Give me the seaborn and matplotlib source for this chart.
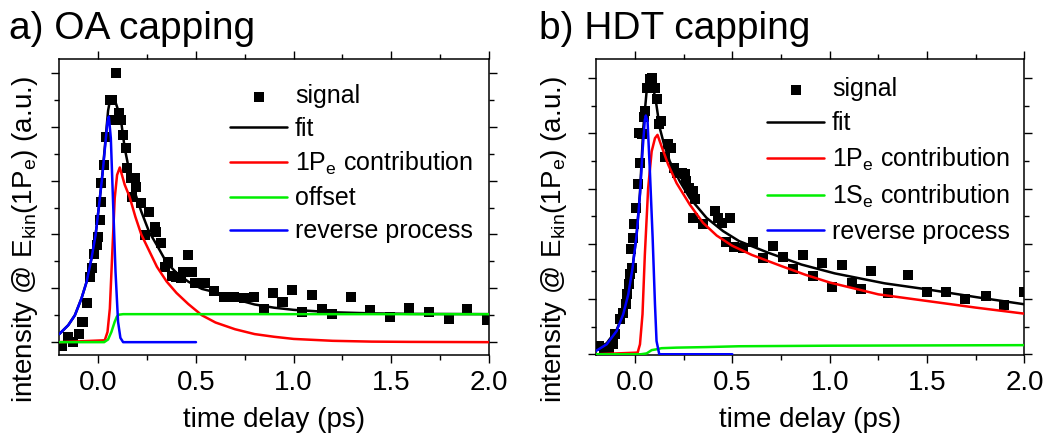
import matplotlib
matplotlib.use("Agg")
import matplotlib.pyplot as plt
from matplotlib.ticker import MultipleLocator, FormatStrFormatter, NullFormatter
import seaborn as sns

# ---------------- data: panel a) OA capping ----------------
sigA_t = [-0.186, -0.154, -0.132, -0.099, -0.081, -0.060, -0.043, -0.030, -0.021, -0.009,
          -0.001, 0.008, 0.013, 0.016, 0.030, 0.038, 0.059, 0.072, 0.088, 0.076,
          0.096, 0.105, 0.118, 0.127, 0.140, 0.149, 0.169, 0.186, 0.195, 0.174,
          0.220, 0.237, 0.259, 0.288, 0.297, 0.319, 0.339, 0.357, 0.379, 0.399,
          0.421, 0.433, 0.458, 0.479, 0.497, 0.548, 0.594, 0.645, 0.696, 0.744,
          0.795, 0.846, 0.895, 0.943, 0.994, 1.045, 1.093, 1.144, 1.195, 1.292,
          1.390, 1.492, 1.593, 1.691, 1.793, 1.890, 1.989]
sigA_y = [-0.015, 0.020, 0.000, 0.032, 0.076, 0.144, 0.243, 0.274, 0.328, 0.361,
          0.392, 0.454, 0.522, 0.591, 0.659, 0.762, 0.901, 0.901, 1.000, 0.826,
          0.826, 0.851, 0.826, 0.770, 0.721, 0.646, 0.609, 0.609, 0.578, 0.541,
          0.516, 0.398, 0.485, 0.429, 0.411, 0.367, 0.280, 0.299, 0.246, 0.243,
          0.239, 0.262, 0.324, 0.262, 0.218, 0.221, 0.191, 0.169, 0.169, 0.165,
          0.169, 0.125, 0.181, 0.148, 0.194, 0.113, 0.175, 0.125, 0.103, 0.166,
          0.119, 0.092, 0.128, 0.113, 0.087, 0.125, 0.082]

fitA_t = [-0.2, -0.154, -0.120, -0.086, -0.060, -0.035, -0.014, 0.004, 0.021, 0.037,
          0.050, 0.060, 0.071, 0.084, 0.101, 0.118, 0.135, 0.16, 0.19, 0.22,
          0.26, 0.30, 0.35, 0.40, 0.46, 0.53, 0.60, 0.70, 0.80, 0.90,
          1.0, 1.2, 1.4, 1.6, 2.0]
fitA_y = [0.030, 0.063, 0.100, 0.163, 0.224, 0.311, 0.398, 0.510, 0.625, 0.755,
          0.860, 0.900, 0.907, 0.900, 0.863, 0.814, 0.721, 0.630, 0.550, 0.485,
          0.410, 0.360, 0.295, 0.258, 0.225, 0.198, 0.185, 0.160, 0.140, 0.128,
          0.120, 0.111, 0.107, 0.105, 0.104]

pA_t = [-0.2, 0.033, 0.047, 0.059, 0.071, 0.084, 0.096, 0.110, 0.135, 0.16,
        0.19, 0.22, 0.26, 0.30, 0.35, 0.40, 0.46, 0.53, 0.60, 0.70,
        0.80, 0.90, 1.0, 1.2, 1.4, 1.6, 2.0]
pA_y = [0.0, 0.007, 0.038, 0.125, 0.324, 0.535, 0.621, 0.649, 0.585, 0.540,
        0.465, 0.400, 0.340, 0.280, 0.225, 0.183, 0.142, 0.100, 0.073, 0.048,
        0.030, 0.020, 0.012, 0.005, 0.002, 0.001, 0.0]

offA_t = [-0.2, 0.030, 0.050, 0.067, 0.084, 0.095, 0.105, 0.127, 2.0]
offA_y = [0.0, 0.0, 0.010, 0.038, 0.076, 0.095, 0.102, 0.104, 0.104]

revA_t = [-0.2, -0.154, -0.120, -0.086, -0.060, -0.035, -0.014, 0.004, 0.021, 0.037,
          0.047, 0.054, 0.064, 0.076, 0.088, 0.101, 0.113, 0.127, 0.5]
revA_y = [0.030, 0.063, 0.100, 0.163, 0.224, 0.311, 0.398, 0.510, 0.621, 0.745,
          0.820, 0.838, 0.758, 0.510, 0.262, 0.076, 0.016, 0.0, 0.0]

# ---------------- data: panel b) HDT capping ----------------
sigB_t = [-0.186, -0.160, -0.134, -0.112, -0.100, -0.078, -0.060, -0.048, -0.039, -0.031,
          -0.026, -0.014, -0.019, -0.008, -0.005, 0.007, 0.018, 0.026, 0.021, 0.038,
          0.047, 0.052, 0.064, 0.078, 0.086, 0.081, 0.103, 0.112, 0.124, 0.136,
          0.154, 0.171, 0.185, 0.199, 0.216, 0.240, 0.257, 0.262, 0.279, 0.297,
          0.309, 0.297, 0.349, 0.409, 0.426, 0.447, 0.486, 0.469, 0.509, 0.556,
          0.607, 0.659, 0.707, 0.759, 0.811, 0.861, 0.914, 0.962, 1.012, 1.064,
          1.112, 1.162, 1.214, 1.299, 1.402, 1.501, 1.598, 1.697, 1.800, 1.897, 1.995]
sigB_y = [0.030, 0.018, 0.012, 0.036, 0.072, 0.127, 0.151, 0.181, 0.217, 0.254,
          0.290, 0.314, 0.380, 0.423, 0.471, 0.529, 0.616, 0.694, 0.801, 0.797,
          0.858, 0.882, 0.966, 0.996, 1.002, 0.966, 0.966, 0.924, 0.833, 0.845,
          0.713, 0.761, 0.749, 0.676, 0.658, 0.658, 0.652, 0.628, 0.604, 0.592,
          0.562, 0.495, 0.471, 0.519, 0.495, 0.477, 0.495, 0.405, 0.390, 0.386,
          0.407, 0.347, 0.392, 0.353, 0.310, 0.359, 0.282, 0.330, 0.245, 0.322,
          0.257, 0.238, 0.302, 0.221, 0.287, 0.226, 0.224, 0.199, 0.211, 0.178, 0.224]

fitB_t = [-0.2, -0.145, -0.094, -0.060, -0.034, -0.012, 0.009, 0.026, 0.043, 0.060,
          0.077, 0.091, 0.108, 0.128, 0.149, 0.179, 0.231, 0.282, 0.368, 0.453,
          0.535, 0.684, 0.855, 1.026, 1.282, 1.501, 1.752, 2.0]
fitB_y = [0.018, 0.040, 0.088, 0.148, 0.220, 0.316, 0.437, 0.585, 0.819, 0.952,
          0.994, 0.976, 0.915, 0.819, 0.762, 0.699, 0.626, 0.566, 0.494, 0.446,
          0.410, 0.368, 0.325, 0.293, 0.257, 0.235, 0.207, 0.181]

pB_t = [-0.2, 0.014, 0.026, 0.039, 0.051, 0.068, 0.086, 0.103, 0.116, 0.137,
        0.171, 0.214, 0.282, 0.350, 0.42, 0.5, 0.6, 0.75, 0.875, 1.0,
        1.25, 1.5, 1.75, 2.0]
pB_y = [0.0, 0.006, 0.036, 0.145, 0.361, 0.602, 0.735, 0.783, 0.795, 0.753,
        0.687, 0.620, 0.542, 0.476, 0.430, 0.393, 0.360, 0.320, 0.288, 0.260,
        0.217, 0.193, 0.169, 0.147]

sB_t = [-0.2, 0.030, 0.060, 0.086, 0.111, 0.137, 0.214, 0.368, 0.535, 1.0, 1.5, 2.0]
sB_y = [0.0, 0.0, 0.003, 0.015, 0.018, 0.022, 0.024, 0.026, 0.029, 0.031, 0.032, 0.033]

revB_t = [-0.2, -0.145, -0.094, -0.060, -0.034, -0.012, 0.009, 0.026, 0.039, 0.051,
          0.056, 0.065, 0.077, 0.091, 0.103, 0.111, 0.125, 0.5]
revB_y = [0.012, 0.036, 0.084, 0.145, 0.217, 0.313, 0.434, 0.578, 0.735, 0.849,
          0.865, 0.843, 0.662, 0.422, 0.181, 0.048, 0.0, 0.0]

titles = ["a) OA capping", "b) HDT capping"]
labelsA = ["signal", "fit", "1P$_e$ contribution", "offset", "reverse process"]
labelsB = ["signal", "fit", "1P$_e$ contribution", "1S$_e$ contribution", "reverse process"]
xlabel = "time delay (ps)"
ylabel = "intensity @ E$_{kin}$(1P$_e$) (a.u.)"

# ---------------- style ----------------
sns.set_style("ticks")
plt.rcParams["font.family"] = ["Liberation Sans", "DejaVu Sans"]
plt.rcParams["mathtext.default"] = "regular"
for k in ("text.color", "axes.labelcolor", "xtick.color", "ytick.color", "axes.edgecolor"):
    plt.rcParams[k] = "black"

RED, GREEN, BLUE, BLACK = "#ff0000", "#00ee00", "#0000ff", "#000000"
LW = 1.8

fig = plt.figure(figsize=(10.47, 4.4), dpi=100)
axA = fig.add_axes([0.0566, 0.193, 0.4104, 0.673])
axB = fig.add_axes([0.5692, 0.193, 0.4093, 0.673])


def draw(ax, st, sy, ft, fy, pt, py, gt, gy, bt, by, labels):
    sns.scatterplot(x=st, y=sy, marker="s", s=52, color=BLACK, edgecolor="none",
                    label=labels[0], ax=ax, zorder=2)
    sns.lineplot(x=ft, y=fy, color=BLACK, lw=LW, label=labels[1], ax=ax, zorder=3)
    sns.lineplot(x=pt, y=py, color=RED, lw=LW, label=labels[2], ax=ax, zorder=3)
    sns.lineplot(x=gt, y=gy, color=GREEN, lw=LW, label=labels[3], ax=ax, zorder=3)
    sns.lineplot(x=bt, y=by, color=BLUE, lw=LW, label=labels[4], ax=ax, zorder=4)


draw(axA, sigA_t, sigA_y, fitA_t, fitA_y, pA_t, pA_y, offA_t, offA_y, revA_t, revA_y, labelsA)
draw(axB, sigB_t, sigB_y, fitB_t, fitB_y, pB_t, pB_y, sB_t, sB_y, revB_t, revB_y, labelsB)

axA.set_ylim(-0.048, 1.052)
axB.set_ylim(-0.003, 1.07)

for ax, anchor, ylc, lsp in ((axA, (0.397, 0.915), (-0.080, 0.39), 0.36),
                             (axB, (0.399, 0.938), (-0.098, 0.39), 0.40)):
    ax.set_xlim(-0.2, 2.0)
    ax.xaxis.set_major_locator(MultipleLocator(0.5))
    ax.xaxis.set_minor_locator(MultipleLocator(0.25))
    ax.xaxis.set_major_formatter(FormatStrFormatter("%.1f"))
    ax.yaxis.set_major_locator(MultipleLocator(0.2))
    ax.yaxis.set_minor_locator(MultipleLocator(0.1))
    ax.yaxis.set_major_formatter(NullFormatter())
    ax.tick_params(which="both", direction="out", top=True, right=True,
                   labeltop=False, labelright=False, labelleft=False,
                   color="black", labelcolor="black", width=1.0)
    ax.tick_params(which="major", length=6, labelsize=20, pad=5)
    ax.tick_params(which="minor", length=3.5)
    for sp in ax.spines.values():
        sp.set_visible(True)
        sp.set_linewidth(1.1)
        sp.set_color("black")
    ax.set_xlabel(xlabel, fontsize=20, labelpad=8, color="black")
    ax.set_ylabel(ylabel, fontsize=20, color="black")
    ax.yaxis.label.set_verticalalignment("center")
    ax.yaxis.set_label_coords(*ylc)
    ax.legend(loc="upper left", bbox_to_anchor=anchor, frameon=False, fontsize=18,
              handlelength=2.3, handletextpad=0.3, labelspacing=lsp, borderpad=0,
              borderaxespad=0, scatterpoints=1, labelcolor="black")

fig.text(0.009, 0.912, titles[0], fontsize=28, va="baseline", ha="left", color="black")
fig.text(0.515, 0.912, titles[1], fontsize=28, va="baseline", ha="left", color="black")

fig.savefig("out.png", dpi=100)
